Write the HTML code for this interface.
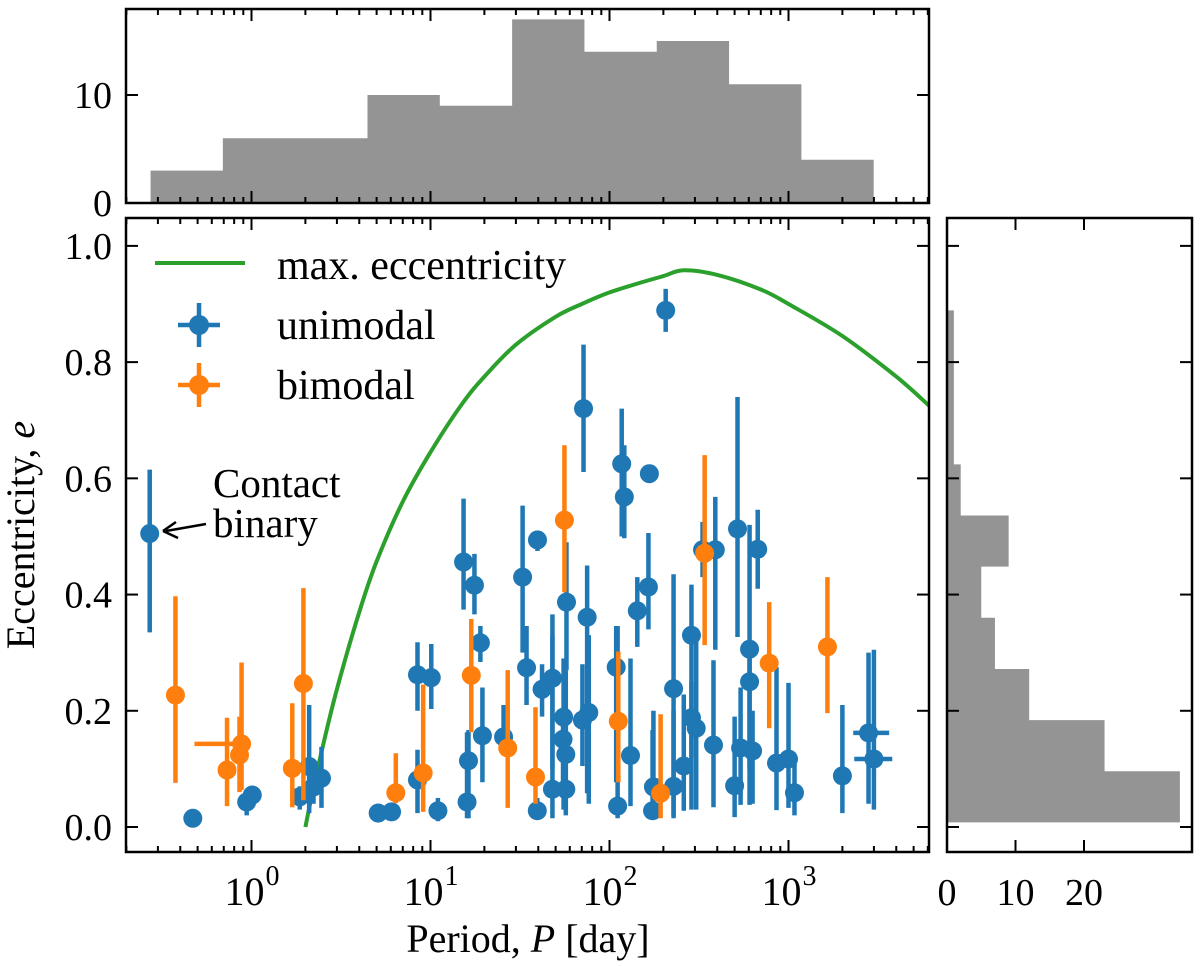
<!DOCTYPE html>
<html><head><meta charset="utf-8">
<style>
html,body{margin:0;padding:0;background:#fff;}
svg{display:block;font-family:"Liberation Serif","DejaVu Serif",serif;}
</style></head>
<body>
<svg id="fig" width="1200" height="966" viewBox="0 0 1200 966" xmlns="http://www.w3.org/2000/svg"></svg>
<script>
// ---------- data ----------
const uniP  = [0.27,0.47,0.94,1.01,1.86,2.1,2.22,2.46,5.1,6.06,8.46,8.46,10.1,11,15.3,17.6,16.3,16,19,19.5,25.6,32.7,34.4,39.6,39.5,42,48,48,55,57,57,55.4,57.5,70.6,71.6,75,76.6,109,111,117,121,131,143,165,167,174,176,206,228,228,260,287,287,305,331,381,390,500,519,540,606,606,630,673,857,1000,1080,2000,2800,3000];
const uniE  = [0.505,0.015,0.043,0.055,0.052,0.104,0.069,0.084,0.024,0.026,0.262,0.081,0.257,0.028,0.456,0.416,0.114,0.043,0.317,0.157,0.155,0.43,0.274,0.494,0.028,0.237,0.256,0.065,0.151,0.125,0.065,0.189,0.387,0.184,0.72,0.361,0.197,0.275,0.036,0.625,0.568,0.123,0.372,0.413,0.608,0.028,0.069,0.889,0.238,0.07,0.105,0.33,0.188,0.17,0.477,0.141,0.477,0.071,0.513,0.136,0.306,0.25,0.131,0.478,0.11,0.117,0.059,0.088,0.162,0.117];
const uniLo = [0.335,0.015,0.02,0.04,0.03,0.024,0.04,0.033,0.01,0.015,0.2,0.024,0.203,0.01,0.374,0.366,0.015,0.015,0.284,0.077,0.13,0.30,0.21,0.475,0.015,0.19,0.1,0.015,0.05,0.03,0.02,0.03,0.27,0.105,0.611,0.058,0.04,0.077,0.015,0.5,0.497,0.036,0.31,0.34,0.608,0.015,0.02,0.852,0.015,0.02,0.028,0.12,0.03,0.03,0.43,0.034,0.305,0.017,0.327,0.038,0.038,0.1,0.04,0.41,0.029,0.033,0.02,0.024,0.04,0.03];
const uniHi = [0.615,0.015,0.06,0.07,0.07,0.21,0.10,0.138,0.04,0.035,0.318,0.133,0.315,0.05,0.565,0.47,0.167,0.163,0.346,0.24,0.21,0.553,0.346,0.51,0.05,0.28,0.33,0.366,0.2,0.27,0.18,0.29,0.49,0.28,0.83,0.45,0.33,0.346,0.346,0.72,0.657,0.29,0.43,0.506,0.608,0.167,0.2,0.926,0.435,0.2,0.228,0.417,0.25,0.34,0.525,0.287,0.568,0.19,0.74,0.24,0.52,0.3,0.2,0.546,0.275,0.248,0.11,0.21,0.3,0.305];
const uniXerrIdx = [68,69];
const uniXLo = [2300,2330];
const uniXHi = [3650,3800];

const biP  = [0.376,0.73,0.88,0.857,1.69,1.95,6.4,9.1,16.9,27,38.6,56,112,193,340,780,1650];
const biE  = [0.227,0.098,0.143,0.124,0.101,0.247,0.059,0.093,0.261,0.136,0.086,0.528,0.182,0.058,0.471,0.282,0.31];
const biLo = [0.076,0.036,0.064,0.06,0.034,0.046,0.041,0.026,0.163,0.033,0.04,0.404,0.077,0.015,0.313,0.17,0.196];
const biHi = [0.397,0.188,0.283,0.19,0.213,0.411,0.127,0.245,0.358,0.27,0.206,0.657,0.302,0.194,0.64,0.387,0.43];
const biXerrIdx = [2];
const biXLo = [0.48];
const biXHi = [0.88];

const curveP = [2,2.2,2.5,3,4,5,7,10,15,20,30,50,70,100,150,200,260,400,700,1000,2000,4000,6000,8000];
const curveE = [0,0.062,0.138,0.237,0.37,0.457,0.56,0.645,0.728,0.775,0.83,0.878,0.9,0.92,0.937,0.948,0.958,0.95,0.925,0.9,0.845,0.775,0.727,0.69];

const histPLogEdges = [-0.564,-0.160,0.244,0.648,1.052,1.456,1.860,2.264,2.668,3.072,3.476];
const histPCounts   = [3,6,6,10,9,17,14,15,11,4];
const histEEdges  = [0.008,0.096,0.184,0.272,0.360,0.448,0.536,0.624,0.712,0.800,0.889];
const histECounts = [34,23,12,7,5,9,2,1,1,1];

const eTicks = [0.0,0.2,0.4,0.6,0.8,1.0];
const eTickLabels = ["0.0","0.2","0.4","0.6","0.8","1.0"];
const pMajor = [0,1,2,3];
const topCountTicks = [0,10];
const rightCountTicks = [0,10,20];

// ---------- layout ----------
const M = {l:126,r:929,t:218,b:852};
const T = {l:126,r:929,t:9,b:203};
const R = {l:947,r:1192,t:218,b:852};
const logMin = -0.7011, logMax = 3.7849;
const eMin = -0.043, eMax = 1.048;
const X = p => M.l + (Math.log10(p)-logMin)/(logMax-logMin)*(M.r-M.l);
const XL = lg => M.l + (lg-logMin)/(logMax-logMin)*(M.r-M.l);
const Y = e => M.b - (e-eMin)/(eMax-eMin)*(M.b-M.t);
const TY = c => T.b - c*10.8;
const RX = c => R.l + c*6.85;

const NS = "http://www.w3.org/2000/svg";
const svg = document.getElementById('fig');
function mk(tag, attrs, parent){ const el=document.createElementNS(NS,tag); for(const k in attrs) el.setAttribute(k,attrs[k]); (parent||svg).appendChild(el); return el; }
function txt(s,x,y,anchor,size,parent){ const t=mk('text',{x:x,y:y,'text-anchor':anchor,'font-size':size,fill:'#000'},parent); t.textContent=s; return t; }

const defs = mk('defs',{});
const cp = mk('clipPath',{id:'mainclip'},defs); mk('rect',{x:M.l,y:M.t,width:M.r-M.l,height:M.b-M.t},cp);

// ---------- top histogram ----------
const gTop = mk('g',{});  
let d = `M${XL(histPLogEdges[0])},${TY(0)}`;
histPCounts.forEach((c,i)=>{ d+=` L${XL(histPLogEdges[i])},${TY(c)} L${XL(histPLogEdges[i+1])},${TY(c)}`; });
d += ` L${XL(histPLogEdges[histPLogEdges.length-1])},${TY(0)} Z`;
const tb = mk('path',{d:d,fill:'#949494'},gTop);



// ---------- right histogram ----------
const gR = mk('g',{});  
d = `M${RX(0)},${Y(histEEdges[0])}`;
histECounts.forEach((c,i)=>{ d+=` L${RX(c)},${Y(histEEdges[i])} L${RX(c)},${Y(histEEdges[i+1])}`; });
d += ` L${RX(0)},${Y(histEEdges[histEEdges.length-1])} Z`;
const rb = mk('path',{d:d,fill:'#949494'},gR);



// ---------- main plot ----------
const gMain = mk('g',{'clip-path':'url(#mainclip)'});


// smooth curve (Catmull-Rom through sampled points)
const pts = curveP.map((p,i)=>[X(p),Y(curveE[i])]);
let cd = `M${pts[0][0].toFixed(1)},${pts[0][1].toFixed(1)}`;
for(let i=0;i<pts.length-1;i++){
  const p0=pts[Math.max(0,i-1)], p1=pts[i], p2=pts[i+1], p3=pts[Math.min(pts.length-1,i+2)];
  const c1=[p1[0]+(p2[0]-p0[0])/6, p1[1]+(p2[1]-p0[1])/6];
  const c2=[p2[0]-(p3[0]-p1[0])/6, p2[1]-(p3[1]-p1[1])/6];
  cd+=` C${c1[0].toFixed(1)},${c1[1].toFixed(1)} ${c2[0].toFixed(1)},${c2[1].toFixed(1)} ${p2[0].toFixed(1)},${p2[1].toFixed(1)}`;
}
const curve = mk('path',{d:cd,fill:'none',stroke:'#2ca02c','stroke-width':4},gMain);



function series(P,E,Lo,Hi,xi,xlo,xhi,color,name){
  const g = mk('g',{},gMain);
  
  
  P.forEach((p,i)=>{
    const x=X(p);
    const eb = mk('line',{x1:x,x2:x,y1:Y(Lo[i]),y2:Y(Hi[i]),stroke:color,'stroke-width':4.5},g);
    
    
  });
  xi.forEach((idx,j)=>{
    const y=Y(E[idx]);
    const hb = mk('line',{x1:X(xlo[j]),x2:X(xhi[j]),y1:y,y2:y,stroke:color,'stroke-width':4.5},g);
    
    
  });
  P.forEach((p,i)=>{
    const c = mk('circle',{cx:X(p),cy:Y(E[i]),r:9.5,fill:color},g);
    
    
  });
}
series(uniP,uniE,uniLo,uniHi,uniXerrIdx,uniXLo,uniXHi,'#1f77b4','unimodal');
series(biP,biE,biLo,biHi,biXerrIdx,biXLo,biXHi,'#ff7f0e','bimodal');

// ---------- ticks ----------
const gT = mk('g',{stroke:'#000','stroke-width':2});


function logTicks(box){
  for(let dec=-1; dec<=3; dec++){
    for(let m=1;m<=9;m++){
      const lg = dec+Math.log10(m);
      if(lg<logMin||lg>logMax) continue;
      const x=XL(lg), L = m===1?12:6;
      mk('line',{x1:x,x2:x,y1:box.b,y2:box.b-L},gT);
      mk('line',{x1:x,x2:x,y1:box.t,y2:box.t+L},gT);
    }
  }
}
logTicks(M); logTicks(T);
eTicks.forEach(e=>{
  const y=Y(e);
  mk('line',{x1:M.l,x2:M.l+12,y1:y,y2:y},gT); mk('line',{x1:M.r,x2:M.r-12,y1:y,y2:y},gT);
  mk('line',{x1:R.l,x2:R.l+12,y1:y,y2:y},gT); mk('line',{x1:R.r,x2:R.r-12,y1:y,y2:y},gT);
});
topCountTicks.forEach(c=>{
  const y=TY(c);
  mk('line',{x1:T.l,x2:T.l+12,y1:y,y2:y},gT); mk('line',{x1:T.r,x2:T.r-12,y1:y,y2:y},gT);
});
rightCountTicks.forEach(c=>{
  const x=RX(c);
  mk('line',{x1:x,x2:x,y1:R.b,y2:R.b-12},gT); mk('line',{x1:x,x2:x,y1:R.t,y2:R.t+12},gT);
});

[M,T,R].forEach((b,i)=>{
  const f = mk('rect',{x:b.l,y:b.t,width:b.r-b.l,height:b.b-b.t,fill:'none',stroke:'#000','stroke-width':2.5});
  
  
});

// ---------- tick labels ----------
const gL = mk('g',{});


eTicks.forEach((e,i)=>{ txt(eTickLabels[i],112,Y(e)+13,'end',38,gL); });
pMajor.forEach(k=>{
  const x=XL(k);
  txt('10',x-7,905,'middle',40,gL);
  txt(String(k),x+21,885,'middle',28,gL);
});
topCountTicks.forEach(c=>{ txt(String(c),112,TY(c)+13,'end',38,gL); });
rightCountTicks.forEach(c=>{ txt(String(c),RX(c),905,'middle',38,gL); });

const xl = mk('text',{x:528,y:952,'text-anchor':'middle','font-size':40});
 
xl.innerHTML = 'Period, <tspan font-style="italic">P</tspan> [day]';
const yl = mk('text',{x:0,y:0,'text-anchor':'middle','font-size':40,transform:'translate(34,535) rotate(-90)'});
 
yl.innerHTML = 'Eccentricity, <tspan font-style="italic">e</tspan>';

// ---------- legend ----------
const gLeg = mk('g',{});


const l1 = mk('line',{x1:155,x2:245,y1:263,y2:263,stroke:'#2ca02c','stroke-width':4},gLeg);
 
txt('max. eccentricity',277,279,'start',42,gLeg);
[['#1f77b4',325,'unimodal'],['#ff7f0e',385,'bimodal']].forEach(([c,y,n])=>{
  const g=mk('g',{},gLeg);
   
  mk('line',{x1:178,x2:220,y1:y,y2:y,stroke:c,'stroke-width':4.5},g);
  mk('line',{x1:199,x2:199,y1:y-22,y2:y+22,stroke:c,'stroke-width':4.5},g);
  mk('circle',{cx:199,cy:y,r:10,fill:c},g);
  txt(n,277,y+14,'start',42,g);
});

// ---------- annotation ----------
const gA = mk('g',{});


txt('Contact',213,497,'start',41,gA);
txt('binary',213,537,'start',41,gA);
mk('line',{x1:206,x2:166,y1:524,y2:531,stroke:'#000','stroke-width':2.5},gA);
mk('path',{d:'M163,531 L176,522 M163,531 L178,538',stroke:'#000','stroke-width':2.5,fill:'none'},gA);
</script>
</body></html>
